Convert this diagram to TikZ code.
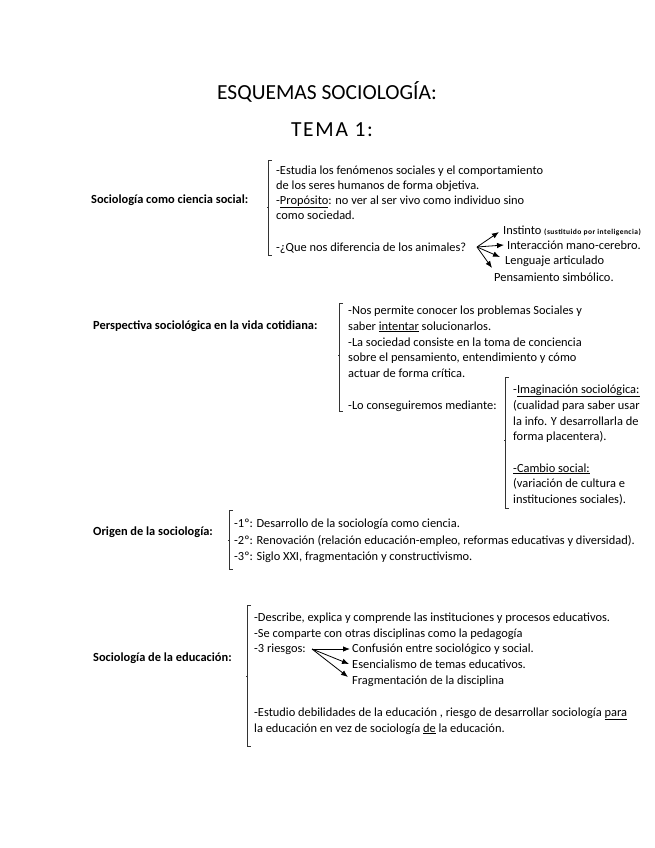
\documentclass[tikz,border=0pt]{standalone}
\usepackage{fontspec}
\setmainfont{Carlito}
\usetikzlibrary{arrows.meta}
\begin{document}
\begin{tikzpicture}[x=1pt,y=-1pt,
  txt/.style={inner sep=0pt,anchor=base west,font=\fontsize{12.4}{14}\selectfont},
  lbl/.style={txt,font=\fontsize{12.4}{14}\selectfont\bfseries},
  ttl/.style={inner sep=0pt,anchor=center,font=\fontsize{21.5}{24}\selectfont},
  brk/.style={draw=black!80,line width=0.8pt},
  arr/.style={draw=black,line width=0.8pt,-{Latex[length=7pt,width=5.5pt]}}]
\useasboundingbox (0,0) rectangle (655,848);
\newcommand{\bracket}[4]{%
  \draw[brk] (#1+4,#2) -- (#1,#2) -- (#1,#3) -- (#1+4,#3);
  \draw[brk] (#1,#4) -- (#1-1.5,#4);}

% title
\node[ttl] (t1) at (327,92) {ESQUEMAS SOCIOLOGÍA:};
\node[ttl] (t2) at (332,130) {\addfontfeature{LetterSpace=8}TEMA 1:};

% section 1
\node[lbl] (l1) at (91,203) {Sociología como ciencia social:};
\bracket{268}{160}{255}{207}
\node[txt] (s1a) at (276,174) {-Estudia los fenómenos sociales y el comportamiento};
\node[txt] (s1b) at (276,189) {de los seres humanos de forma objetiva.};
\node[txt] (s1c) at (276,204) {-\underline{Propósito}: no ver al ser vivo como individuo sino};
\node[txt] (s1d) at (276,219) {como sociedad.};
\node[txt] (s1e) at (276,251) {-¿Que nos diferencia de los animales?};
\coordinate (o1) at (477,247);
\coordinate (e1) at (499,232);
\coordinate (e2) at (504,245);
\coordinate (e3) at (500,257);
\coordinate (e4) at (492,268);
\draw[arr] (o1) -- (e1);
\draw[arr] (o1) -- (e2);
\draw[arr] (o1) -- (e3);
\draw[arr] (o1) -- (e4);
\node[txt] (a1) at (503,234) {Instinto {\fontsize{7.5}{8}\selectfont\bfseries\addfontfeature{LetterSpace=6}(sustituido por inteligencia)}};
\node[txt] (a2) at (507,249) {Interacción mano-cerebro.};
\node[txt] (a3) at (505,264) {Lenguaje articulado};
\node[txt] (a4) at (494,281) {Pensamiento simbólico.};

% section 2
\node[lbl] (l2) at (93,329) {Perspectiva sociológica en la vida cotidiana:};
\bracket{339}{303}{411}{355}
\node[txt] (s2a) at (348,314) {-Nos permite conocer los problemas Sociales y};
\node[txt] (s2b) at (348,330) {saber \underline{intentar} solucionarlos.};
\node[txt] (s2c) at (348,346) {-La sociedad consiste en la toma de conciencia};
\node[txt] (s2d) at (348,361) {sobre el pensamiento, entendimiento y cómo};
\node[txt] (s2e) at (348,377) {actuar de forma crítica.};
\node[txt] (s2f) at (348,409) {-Lo conseguiremos mediante:};
\bracket{505}{377}{508}{440}
\node[txt] (m1) at (513,393) {-\underline{Imaginación sociológica:}};
\node[txt] (m2) at (513,409) {(cualidad para saber usar};
\node[txt] (m3) at (513,425) {la info. Y desarrollarla de};
\node[txt] (m4) at (513,440) {forma placentera).};
\node[txt] (m5) at (513,472) {\underline{-Cambio social:}};
\node[txt] (m6) at (513,487) {(variación de cultura e};
\node[txt] (m7) at (513,503) {instituciones sociales).};

% section 3
\node[lbl] (l3) at (93,535) {Origen de la sociología:};
\bracket{229}{510}{569}{540}
\node[txt] (s3a) at (234,527) {-1º: Desarrollo de la sociología como ciencia.};
\node[txt] (s3b) at (234,544) {-2º: Renovación (relación educación-empleo, reformas educativas y diversidad).};
\node[txt] (s3c) at (234,560) {-3º: Siglo XXI, fragmentación y constructivismo.};

% section 4
\node[lbl] (l4) at (93,661) {Sociología de la educación:};
\bracket{247}{605}{746}{676}
\node[txt] (s4a) at (254,621) {-Describe, explica y comprende las instituciones y procesos educativos.};
\node[txt] (s4b) at (254,637) {-Se comparte con otras disciplinas como la pedagogía};
\node[txt] (s4c) at (254,652) {-3 riesgos:};
\coordinate (o4) at (312,649);
\coordinate (f1) at (350,649);
\coordinate (f2) at (349,664);
\coordinate (f3) at (348,677);
\draw[arr] (o4) -- (f1);
\draw[arr] (o4) -- (f2);
\draw[arr] (o4) -- (f3);
\node[txt] (r1) at (352,652) {Confusión entre sociológico y social.};
\node[txt] (r2) at (352,668) {Esencialismo de temas educativos.};
\node[txt] (r3) at (352,684) {Fragmentación de la disciplina};
\node[txt] (s4d) at (254,716) {-Estudio debilidades de la educación , riesgo de desarrollar sociología \underline{para}};
\node[txt] (s4e) at (254,732) {la educación en vez de sociología \underline{de} la educación.};
\end{tikzpicture}
\end{document}
